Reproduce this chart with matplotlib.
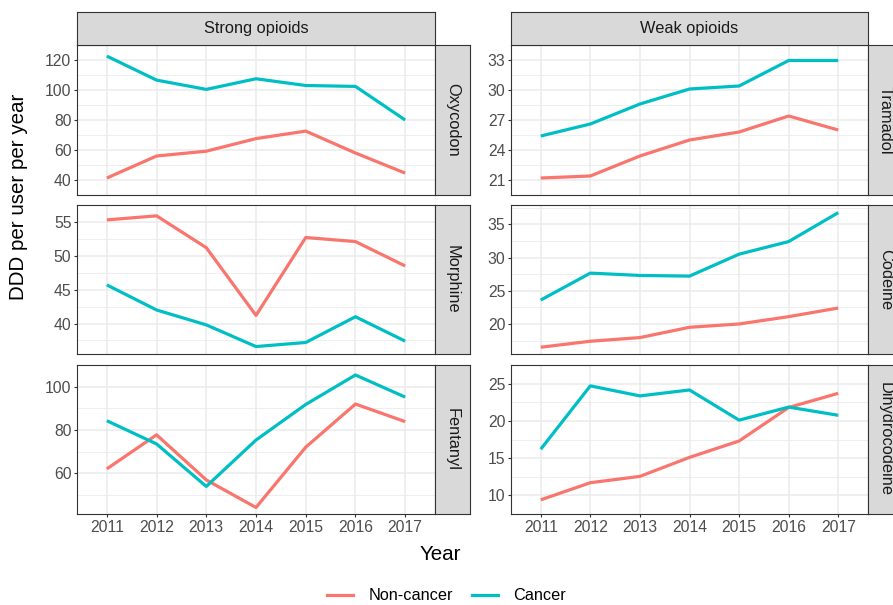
import matplotlib.pyplot as plt
from matplotlib.lines import Line2D

plt.rcParams['font.family'] = ['Liberation Sans', 'DejaVu Sans']

years = [2011, 2012, 2013, 2014, 2015, 2016, 2017]

# DDD per user per year
oxycodon_non = [41.3, 56.0, 59.2, 67.6, 72.6, 58.0, 44.6]
oxycodon_can = [122.6, 106.6, 100.4, 107.5, 103.0, 102.4, 80.0]
morphine_non = [55.3, 55.9, 51.2, 41.2, 52.7, 52.1, 48.5]
morphine_can = [45.7, 42.0, 39.8, 36.6, 37.2, 41.0, 37.4]
fentanyl_non = [62.1, 77.8, 57.0, 44.3, 72.1, 92.0, 83.9]
fentanyl_can = [84.3, 73.6, 54.0, 75.4, 91.8, 105.4, 95.2]
tramadol_non = [21.2, 21.4, 23.4, 25.0, 25.8, 27.4, 26.0]
tramadol_can = [25.4, 26.6, 28.6, 30.1, 30.4, 32.95, 32.95]
codeine_non = [16.5, 17.4, 17.95, 19.5, 20.0, 21.1, 22.4]
codeine_can = [23.6, 27.65, 27.3, 27.2, 30.5, 32.4, 36.75]
dihydro_non = [9.4, 11.7, 12.55, 15.1, 17.3, 21.8, 23.7]
dihydro_can = [16.2, 24.7, 23.35, 24.15, 20.1, 21.85, 20.75]

groups = ['Non-cancer', 'Cancer']
colors = ['#F8766D', '#00BFC4']

# (column title, drug, non-cancer, cancer, ylim, major ticks)
panels = [
    ('Strong opioids', 'Oxycodon', oxycodon_non, oxycodon_can, (37.0, 127.2), [40, 60, 80, 100, 120]),
    ('Strong opioids', 'Morphine', morphine_non, morphine_can, (35.5, 56.8), [40, 45, 50, 55]),
    ('Strong opioids', 'Fentanyl', fentanyl_non, fentanyl_can, (41.3, 108.7), [60, 80, 100]),
    ('Weak opioids', 'Tramadol', tramadol_non, tramadol_can, (20.59, 33.63), [21, 24, 27, 30, 33]),
    ('Weak opioids', 'Codeine', codeine_non, codeine_can, (15.48, 37.9), [20, 25, 30, 35]),
    ('Weak opioids', 'Dihydrocodeine', dihydro_non, dihydro_can, (8.49, 25.38), [10, 15, 20, 25]),
]

W, H = 893, 605
fig = plt.figure(figsize=(W / 100, H / 100), dpi=100)


def box(x0, y0, x1, y1):
    return [x0 / W, 1 - y1 / H, (x1 - x0) / W, (y1 - y0) / H]


def strip(x0, y0, x1, y1, text, rot):
    s = fig.add_axes(box(x0, y0, x1, y1))
    s.set_facecolor('#D9D9D9')
    s.set_xticks([])
    s.set_yticks([])
    for sp in s.spines.values():
        sp.set_color('#333333')
        sp.set_linewidth(0.8)
    s.text(0.5, 0.5, text, transform=s.transAxes, ha='center', va='center',
           rotation=rot, fontsize=11.8, color='#1A1A1A')
    return s


col_x = [(77, 435), (511, 868)]
row_y = [(45, 195), (205, 354), (365, 514)]

for i, (title, drug, non, can, ylim, ticks) in enumerate(panels):
    c, r = divmod(i, 3)
    x0, x1 = col_x[c]
    y0, y1 = row_y[r]
    ax = fig.add_axes(box(x0, y0, x1, y1))
    ax.set_xlim(2010.4, 2017.6)
    ax.set_ylim(*ylim)
    ax.set_yticks(ticks)
    step = ticks[1] - ticks[0]
    minor = [t - step / 2 for t in ticks] + [ticks[-1] + step / 2]
    ax.set_yticks(minor, minor=True)
    ax.set_xticks(years)
    ax.grid(which='major', color='#EBEBEB', lw=1.1)
    ax.grid(which='minor', axis='y', color='#EBEBEB', lw=0.6)
    ax.set_axisbelow(True)
    for vals, g, col in zip([non, can], groups, colors):
        ax.plot(years, vals, color=col, lw=2.3, label=g, solid_capstyle='butt')
    for sp in ax.spines.values():
        sp.set_color('#333333')
        sp.set_linewidth(0.8)
    ax.tick_params(which='major', length=2.5, width=0.8, color='#333333',
                   labelsize=11.3, labelcolor='#4D4D4D', pad=1.5)
    ax.tick_params(which='minor', length=0)
    if r < 2:
        ax.tick_params(axis='x', labelbottom=False, length=0)
    ax.set_xticklabels([str(y) for y in years])

    strip(x1, y0, x1 + 35, y1, drug, -90)
    if r == 0:
        strip(x0, 12, x1, 45, title, 0)

fig.text(19 / W, 1 - 197 / H, 'DDD per user per year', rotation=90,
         ha='center', va='center', fontsize=14.8)
fig.text(440 / W, 1 - 555 / H, 'Year', ha='center', va='center', fontsize=14.8)

handles = [Line2D([], [], color=c, lw=2.3) for c in colors]
fig.legend(handles, groups, loc='center', bbox_to_anchor=(0.5, 1 - 596 / H),
           ncol=2, frameon=False, fontsize=11.7, handlelength=1.6,
           columnspacing=1.15, handletextpad=0.95)

fig.savefig('out.png', dpi=100)
